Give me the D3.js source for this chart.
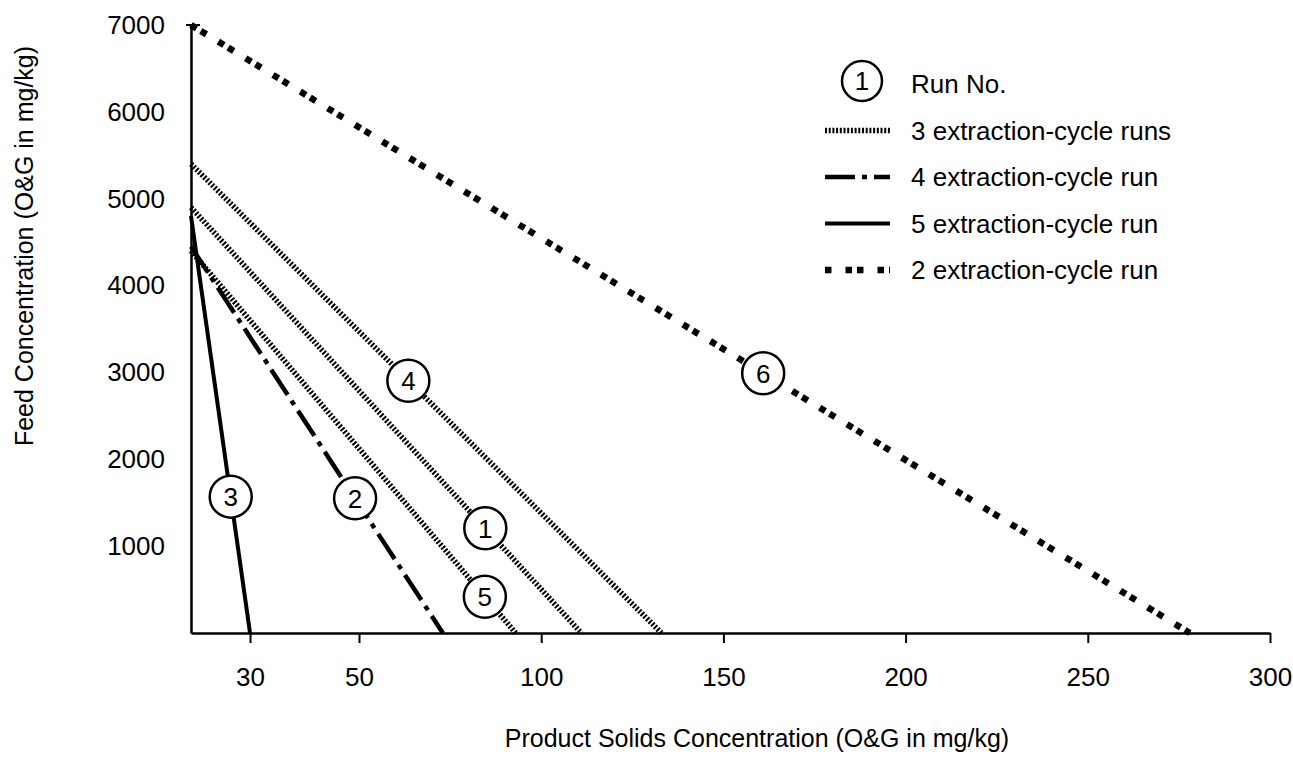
<!DOCTYPE html>
<html>
<head>
<meta charset="utf-8">
<script src="https://cdn.jsdelivr.net/npm/d3@7"></script>
<style>
  body { margin: 0; background: #fff; }
  text { font-family: "Liberation Sans", Arial, Helvetica, sans-serif; fill: #000; }
</style>
</head>
<body>
<script>
// Run data: each run is a straight line from the feed axis down to the solids axis
var runNumbers = [1, 2, 3, 4, 5, 6];
var runCycles = [3, 4, 5, 3, 3, 2];
var startFeed = [4900, 4450, 4800, 5400, 4400, 7000];   // feed conc. where the line leaves the y axis
var endSolids = [111, 73, 30, 133, 93, 278];            // product solids conc. where it meets the x axis
var labelFeed = [1205, 1550, 1570, 2905, 418, 2990];    // feed value where the run number circle sits

// Axis ticks
var xTickValues = [30, 50, 100, 150, 200, 250, 300];
var yTickValues = [1000, 2000, 3000, 4000, 5000, 6000, 7000];

// Legend
var legendCycles = [3, 4, 5, 2];
var legendLabels = ["3 extraction-cycle runs", "4 extraction-cycle run",
  "5 extraction-cycle run", "2 extraction-cycle run"];

var xMin = 20;
var yMax = 7000;

// SVG area
var svgWidth = 1293;
var svgHeight = 761;

var margin = { top: 25, right: 23, bottom: 128, left: 191 };
var chartWidth = svgWidth - margin.left - margin.right;
var chartHeight = svgHeight - margin.top - margin.bottom;

var svg = d3.select("body")
  .append("svg")
  .attr("width", svgWidth)
  .attr("height", svgHeight);

var chartGroup = svg.append("g")
  .attr("transform", "translate(" + margin.left + ", " + margin.top + ")");

// The original axis is stretched between 20 and 50, so use a piecewise scale
var xScale = d3.scaleLinear()
  .domain([xMin, 30, 50, 300])
  .range([0, chartWidth * 0.0547, chartWidth * 0.1557, chartWidth]);

var yScale = d3.scaleLinear()
  .domain([0, yMax])
  .range([chartHeight, 0]);

// line styles per number of extraction cycles
var cycleStyle = {
  3: { width: 5.5, dash: "2,1.7" },
  4: { width: 4.5, dash: "30,7,5,7" },
  5: { width: 4, dash: null },
  2: { width: 6.5, dash: "6.5,5,6.5,14" }
};

var runs = runNumbers.map(function (n, i) {
  return {
    run: n,
    cycles: runCycles[i],
    points: [{ x: xMin, y: startFeed[i] }, { x: endSolids[i], y: 0 }],
    labelY: labelFeed[i]
  };
});

var drawLine = d3.line()
  .x(function (d) { return xScale(d.x); })
  .y(function (d) { return yScale(d.y); });

chartGroup.selectAll(".run")
  .data(runs)
  .enter()
  .append("path")
  .attr("class", "run")
  .attr("d", function (d) { return drawLine(d.points); })
  .attr("fill", "none")
  .attr("stroke", "#000")
  .attr("stroke-width", function (d) { return cycleStyle[d.cycles].width; })
  .attr("stroke-dasharray", function (d) { return cycleStyle[d.cycles].dash; });

// Axes
var bottomAxis = d3.axisBottom(xScale)
  .tickValues(xTickValues)
  .tickSize(10)
  .tickSizeOuter(0)
  .tickPadding(25);

var leftAxis = d3.axisLeft(yScale)
  .tickValues(yTickValues)
  .tickFormat(d3.format("d"))
  .tickSize(0)
  .tickPadding(26);

var xAxisG = chartGroup.append("g")
  .attr("transform", "translate(0, " + chartHeight + ")")
  .call(bottomAxis);

var yAxisG = chartGroup.append("g")
  .call(leftAxis);

[xAxisG, yAxisG].forEach(function (g) {
  g.select(".domain").attr("stroke-width", 2.5);
  g.selectAll(".tick line").attr("stroke-width", 2);
  g.selectAll(".tick text")
    .attr("font-size", 26)
    .attr("font-family", "'Liberation Sans', Arial, sans-serif");
});

// little cross tick at the top of the feed axis
chartGroup.append("line")
  .attr("x1", -5)
  .attr("x2", 9)
  .attr("y1", yScale(yMax))
  .attr("y2", yScale(yMax))
  .attr("stroke", "#000")
  .attr("stroke-width", 2);

// Run number circles, placed on each line at their feed value
var labels = chartGroup.selectAll(".runLabel")
  .data(runs)
  .enter()
  .append("g")
  .attr("class", "runLabel")
  .attr("transform", function (d) {
    var p0 = d.points[0], p1 = d.points[1];
    var py = yScale(d.labelY);
    var t = (py - yScale(p0.y)) / (yScale(p1.y) - yScale(p0.y));
    var px = xScale(p0.x) + t * (xScale(p1.x) - xScale(p0.x));
    return "translate(" + px + ", " + py + ")";
  });

labels.append("circle")
  .attr("r", 21)
  .attr("fill", "#fff")
  .attr("stroke", "#000")
  .attr("stroke-width", 2.5);

labels.append("text")
  .attr("text-anchor", "middle")
  .attr("dy", "0.36em")
  .attr("font-size", 26)
  .text(function (d) { return d.run; });

// Axis titles
svg.append("text")
  .attr("transform", "translate(33, 246) rotate(-90)")
  .attr("text-anchor", "middle")
  .attr("font-size", 25)
  .text("Feed Concentration (O&G in mg/kg)");

svg.append("text")
  .attr("x", 757)
  .attr("y", 747)
  .attr("text-anchor", "middle")
  .attr("font-size", 25)
  .text("Product Solids Concentration (O&G in mg/kg)");

// Legend
var legend = svg.append("g")
  .attr("transform", "translate(825, 84)");

var rowGap = 46.5;

legend.append("circle")
  .attr("cx", 37)
  .attr("cy", -3)
  .attr("r", 20)
  .attr("fill", "#fff")
  .attr("stroke", "#000")
  .attr("stroke-width", 2.5);

legend.append("text")
  .attr("x", 37)
  .attr("y", -3)
  .attr("dy", "0.36em")
  .attr("text-anchor", "middle")
  .attr("font-size", 26)
  .text(runNumbers[0]);

legend.append("text")
  .attr("x", 86)
  .attr("y", 0)
  .attr("dy", "0.36em")
  .attr("font-size", 26)
  .text("Run No.");

var rows = legend.selectAll(".legendRow")
  .data(legendCycles)
  .enter()
  .append("g")
  .attr("class", "legendRow")
  .attr("transform", function (d, i) { return "translate(0, " + (rowGap * (i + 1)) + ")"; });

rows.append("line")
  .attr("x1", 0)
  .attr("x2", 65)
  .attr("stroke", "#000")
  .attr("stroke-width", function (d) { return cycleStyle[d].width; })
  .attr("stroke-dasharray", function (d) { return cycleStyle[d].dash; })
  // start the 2-cycle sample on a single square, as in the original
  .attr("stroke-dashoffset", function (d) { return d === 2 ? 11.5 : 0; });

rows.append("text")
  .attr("x", 86)
  .attr("dy", "0.36em")
  .attr("font-size", 26)
  .text(function (d, i) { return legendLabels[i]; });
</script>
</body>
</html>
